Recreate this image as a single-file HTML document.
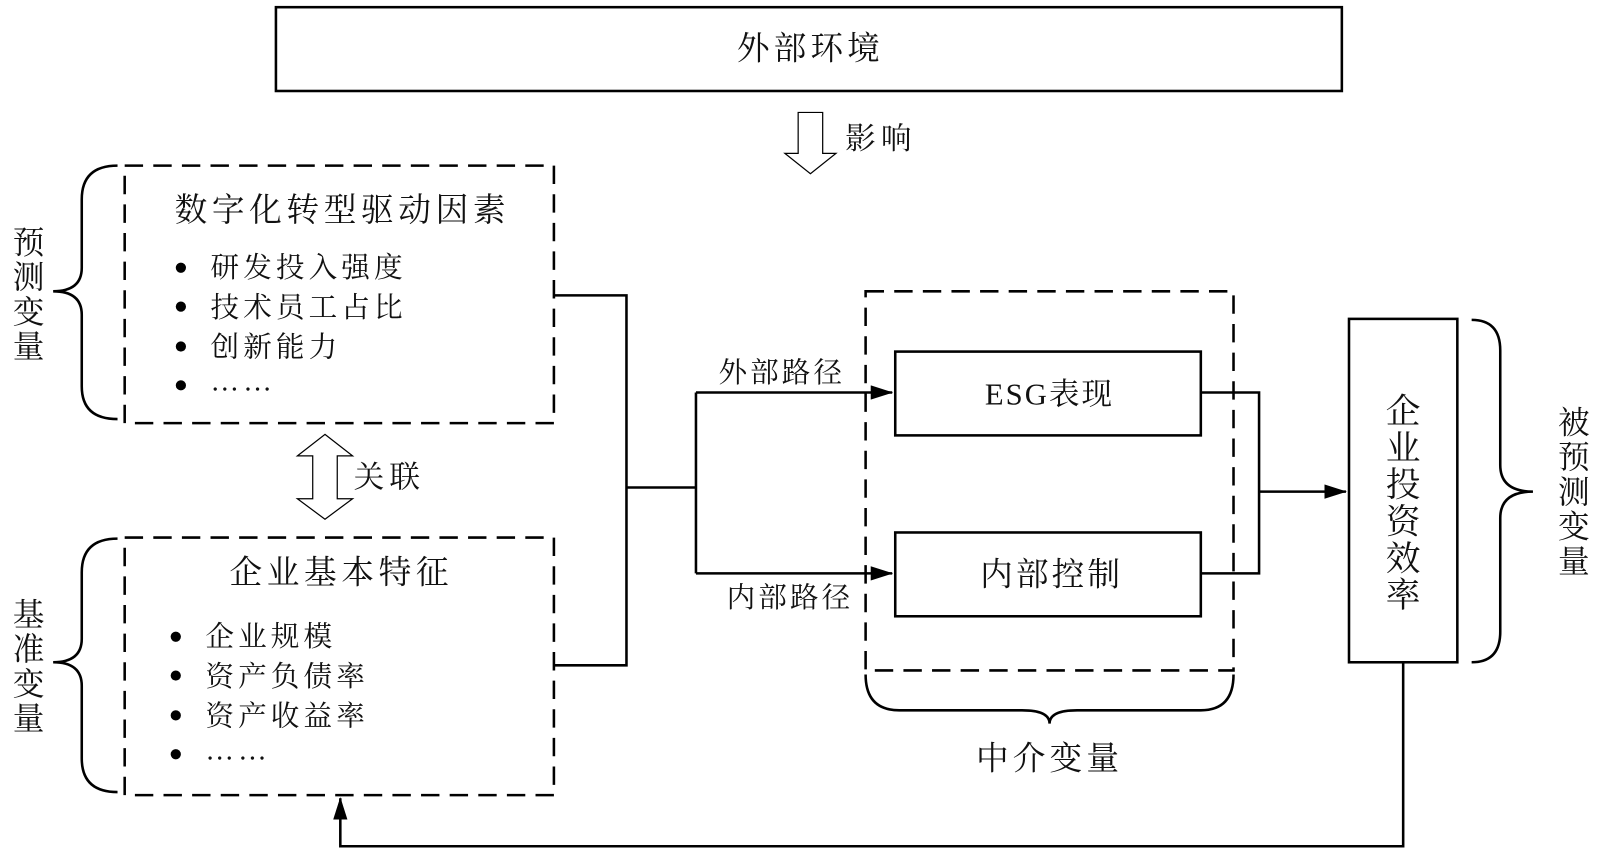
<!DOCTYPE html>
<html><head><meta charset="utf-8"><style>
html,body{margin:0;padding:0;background:#fff;}
svg{display:block}
text{font-family:"Liberation Serif","Noto Serif CJK SC",serif;fill:#111;}
</style></head><body>
<svg width="1600" height="853" viewBox="0 0 1565.6 834.6" xmlns="http://www.w3.org/2000/svg">
<defs>
<marker id="ah2" markerWidth="22" markerHeight="14" refX="21" refY="7" orient="auto" markerUnits="userSpaceOnUse" viewBox="0 0 22 14">
<path d="M0,0 L22,7 L0,14 z" fill="#000"/></marker>
</defs>
<g fill="none" stroke="#000" stroke-width="2.5">
<rect x="270" y="7" width="1043" height="82"/>
<path d="M781,110 L805,110 L805,150 L818,150 L793,170 L768,150 L781,150 Z" stroke-width="1.2"/>
<rect x="122" y="162" width="420" height="252" stroke-dasharray="18,10"/>
<rect x="122" y="526" width="420" height="252" stroke-dasharray="18,10"/>
<rect x="847" y="285" width="360" height="371" stroke-dasharray="18,10"/>
<path d="M115,162 Q80,162 80,195 L80,262 Q80,285 52,285 Q80,285 80,308 L80,378 Q80,410 115,410"/>
<path d="M115,527 Q80,527 80,560 L80,625 Q80,648 52,648 Q80,648 80,671 L80,742 Q80,775 115,775"/>
<path d="M1440,313 Q1468,313 1468,343 L1468,455 Q1468,481 1500,481 Q1468,481 1468,507 L1468,618 Q1468,648 1440,648"/>
<path d="M847,660 Q847,695 880,695 L1000,695 Q1027,695 1027,708 Q1027,695 1054,695 L1175,695 Q1207,695 1207,660"/>
<path d="M318,425 L345,446 L330,446 L330,488 L345,488 L318,508 L291,488 L306,488 L306,446 L291,446 Z" stroke-width="1.2"/>
<rect x="876" y="344" width="299" height="82"/>
<rect x="876" y="521" width="299" height="82"/>
<rect x="1320" y="312" width="106" height="336"/>
<path d="M542,289 L613,289 L613,651 L542,651"/>
<path d="M613,477 L681,477"/>
<path d="M681,384 L681,561"/>
<path d="M681,384 L873,384" marker-end="url(#ah2)"/>
<path d="M681,561 L873,561" marker-end="url(#ah2)"/>
<path d="M1175,384 L1232,384 L1232,561 L1175,561"/>
<path d="M1232,481 L1317,481" marker-end="url(#ah2)"/>
<path d="M1373,648 L1373,828 L333,828 L333,781" marker-end="url(#ah2)"/>
</g>
<text x="793" y="58" font-size="32" letter-spacing="4" text-anchor="middle">外部环境</text>
<text x="827" y="146" font-size="30" letter-spacing="5">影响</text>
<text x="335" y="216" font-size="32" letter-spacing="4.5" text-anchor="middle">数字化转型驱动因素</text>
<g fill="#000"><circle cx="177" cy="262" r="5"/><circle cx="177" cy="300" r="5"/><circle cx="177" cy="339" r="5"/><circle cx="177" cy="377" r="5"/>
<circle cx="172" cy="623" r="5"/><circle cx="172" cy="661" r="5"/><circle cx="172" cy="700" r="5"/><circle cx="172" cy="738" r="5"/></g>
<g font-size="28" letter-spacing="4">
<text x="206" y="271">研发投入强度</text>
<text x="206" y="310">技术员工占比</text>
<text x="206" y="349">创新能力</text>
<text x="206" y="382">……</text>
<text x="201" y="632">企业规模</text>
<text x="201" y="671">资产负债率</text>
<text x="201" y="710">资产收益率</text>
<text x="201" y="743">……</text>
</g>
<text x="334" y="571" font-size="32" letter-spacing="4.5" text-anchor="middle">企业基本特征</text>
<text x="346" y="477" font-size="30" letter-spacing="5">关联</text>
<text x="703" y="374" font-size="28" letter-spacing="3">外部路径</text>
<text x="711" y="594" font-size="28" letter-spacing="3">内部路径</text>
<text x="1027" y="396" font-size="30" letter-spacing="2" text-anchor="middle">ESG表现</text>
<text x="1029" y="573" font-size="32" letter-spacing="3" text-anchor="middle">内部控制</text>
<text x="1027" y="753" font-size="32" letter-spacing="4" text-anchor="middle">中介变量</text>
<g font-size="31" text-anchor="middle">
<text x="28" y="248">预</text><text x="28" y="282">测</text><text x="28" y="316">变</text><text x="28" y="350">量</text>
<text x="28" y="612">基</text><text x="28" y="646">准</text><text x="28" y="680">变</text><text x="28" y="714">量</text>
<text x="1540" y="424">被</text><text x="1540" y="458">预</text><text x="1540" y="492">测</text><text x="1540" y="526">变</text><text x="1540" y="560">量</text>
</g>
<g font-size="34" text-anchor="middle">
<text x="1373" y="414">企</text><text x="1373" y="450">业</text><text x="1373" y="486">投</text><text x="1373" y="522">资</text><text x="1373" y="558">效</text><text x="1373" y="594">率</text>
</g>
</svg>
</body></html>
